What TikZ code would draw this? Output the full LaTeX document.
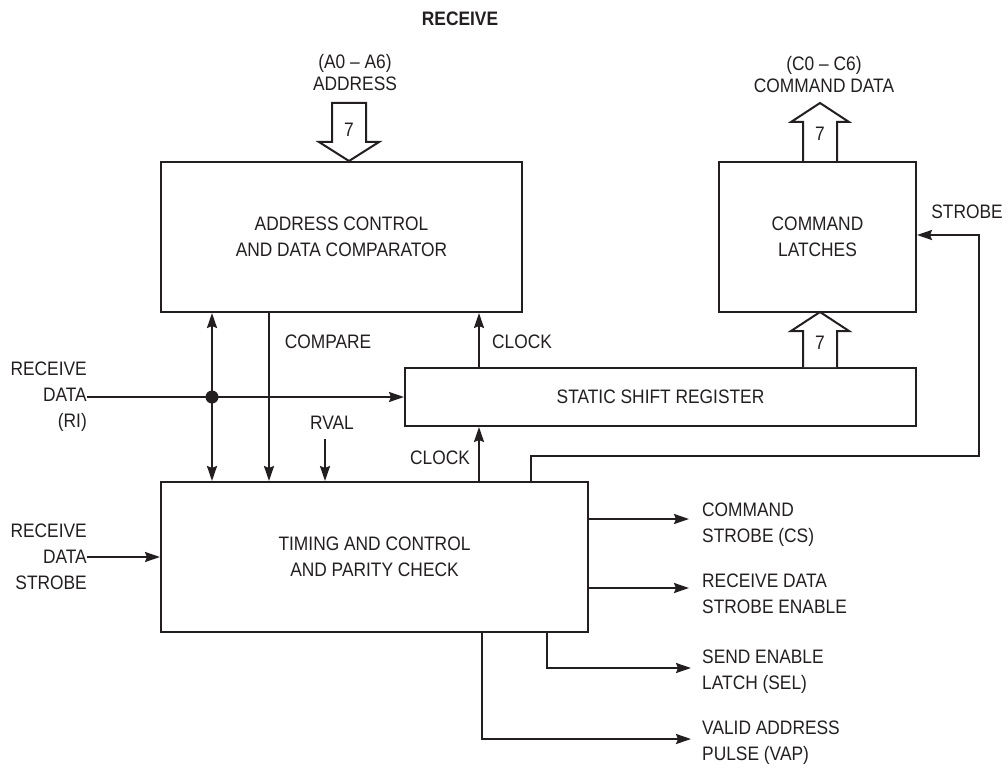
\documentclass[tikz,border=0pt]{standalone}
\usepackage{fontspec}
\setmainfont{Liberation Sans}[FakeStretch=0.89]
\usetikzlibrary{arrows.meta}
\definecolor{ink}{RGB}{35,31,32}

\begin{document}
\begin{tikzpicture}[x=1pt, y=-1pt, >={Stealth[length=15pt, width=10pt, inset=2pt]},
	block/.style={shape=rectangle, draw=ink, line width=2pt, inner sep=0pt, align=center, text=ink, font=\fontsize{19.5}{26}\selectfont},
	wire/.style={draw=ink, line width=2pt},
	bus/.style={draw=ink, line width=2pt, fill=white, line join=miter},
	lbl/.style={text=ink, inner sep=0pt, font=\fontsize{19.5}{26}\selectfont},
	toplbl/.style={text=ink, inner sep=0pt, align=center, font=\fontsize{19.5}{22}\selectfont}]
	\useasboundingbox (0, 0) rectangle (1008, 770);

	\node[block, minimum width=361pt, minimum height=150pt] (addr)   at (341.5, 237) {ADDRESS CONTROL\\AND DATA COMPARATOR};
	\node[block, minimum width=197pt, minimum height=150pt] (latch)  at (817.5, 237) {COMMAND\\LATCHES};
	\node[block, minimum width=511pt, minimum height=58pt]  (shift)  at (660.5, 397) {STATIC SHIFT REGISTER};
	\node[block, minimum width=427pt, minimum height=150pt] (timing) at (374.5, 557) {TIMING AND CONTROL\\AND PARITY CHECK};

	\node[toplbl, font=\fontsize{19.5}{22}\selectfont\bfseries] (title) at (460, 19) {RECEIVE};
	\node[toplbl] (addrin) at (355, 73) {(A0 – A6)\\ADDRESS};
	\node[toplbl] (cmdout) at (824, 75) {(C0 – C6)\\COMMAND DATA};

	\node[lbl, align=right, anchor=east] (rdata) at (87, 397) {RECEIVE\\DATA\\(RI)};
	\node[lbl, align=right, anchor=east] (rdstb) at (87, 557) {RECEIVE\\DATA\\STROBE};

	\node[lbl] (cmp)  at (328, 342) {COMPARE};
	\node[lbl] (rvl)  at (332, 423) {RVAL};
	\node[lbl] (clk1) at (522, 342) {CLOCK};
	\node[lbl] (clk2) at (440, 458) {CLOCK};
	\node[lbl] (stb)  at (967, 212) {STROBE};

	\node[lbl, align=left, anchor=west] (cs)   at (702, 525) {COMMAND\\STROBE (CS)};
	\node[lbl, align=left, anchor=west] (rdse) at (702, 594) {RECEIVE DATA\\STROBE ENABLE};
	\node[lbl, align=left, anchor=west] (sel)  at (702, 672) {SEND ENABLE\\LATCH (SEL)};
	\node[lbl, align=left, anchor=west] (vap)  at (702, 743) {VALID ADDRESS\\PULSE (VAP)};

	\node[shape=circle, fill=ink, inner sep=0pt, minimum size=13pt] (tap) at (212, 397) {};

	\coordinate (cmpx)    at (269, 0);
	\coordinate (rvalin)  at (325, 439);
	\coordinate (clkx)    at (479, 0);
	\coordinate (stbx)    at (531, 456);
	\coordinate (stbr)    at (979, 235);
	\coordinate (addrbus) at (349, 0);
	\coordinate (datbus)  at (803, 0);
	\coordinate (csend)   at (689, 519);
	\coordinate (rdseend) at (689, 588);
	\coordinate (selbend) at (547, 668);
	\coordinate (selend)  at (691, 668);
	\coordinate (vapbend) at (482, 739);
	\coordinate (vapend)  at (691, 739);

	% 7 bit buses
	\draw[bus] (addr.north -| addrbus) -- ++(30,-19) -- ++(-13,0) -- ++(0,-39) -- ++(-34,0) -- ++(0,39) -- ++(-13,0) -- cycle;
	\draw[bus] (latch.north -| datbus) -- ++(0,-39) -- ++(-12,0) -- ++(29,-19) -- ++(29,19) -- ++(-12,0) -- ++(0,39);
	\draw[bus] (shift.north -| datbus) -- ++(0,-36) -- ++(-12,0) -- ++(29,-19) -- ++(29,19) -- ++(-12,0) -- ++(0,36);
	\node[lbl] (w1) at (349, 130) {7};
	\node[lbl] (w2) at (820, 134) {7};
	\node[lbl] (w3) at (820, 343) {7};

	% inputs
	\draw[wire, <->] (addr.south -| tap) -- (timing.north -| tap);
	\draw[wire, ->] (addr.south -| cmpx) -- (timing.north -| cmpx);
	\draw[wire, ->] (rvalin) -- (timing.north -| rvalin);
	\draw[wire, ->] (rdata.east) -- (rdata.east -| shift.west);
	\draw[wire, ->] (rdstb.east) -- (rdstb.east -| timing.west);

	% clocks and strobe
	\draw[wire, ->] (timing.north -| clkx) -- (shift.south -| clkx);
	\draw[wire, ->] (shift.north -| clkx) -- (addr.south -| clkx);
	\draw[wire, ->] (timing.north -| stbx) -- (stbx) -| (stbr) -- (latch.east |- stbr);

	% outputs
	\draw[wire, ->] (timing.east |- csend) -- (csend);
	\draw[wire, ->] (timing.east |- rdseend) -- (rdseend);
	\draw[wire, ->] (timing.south -| selbend) |- (selend);
	\draw[wire, ->] (timing.south -| vapbend) |- (vapend);

\end{tikzpicture}
\end{document}
